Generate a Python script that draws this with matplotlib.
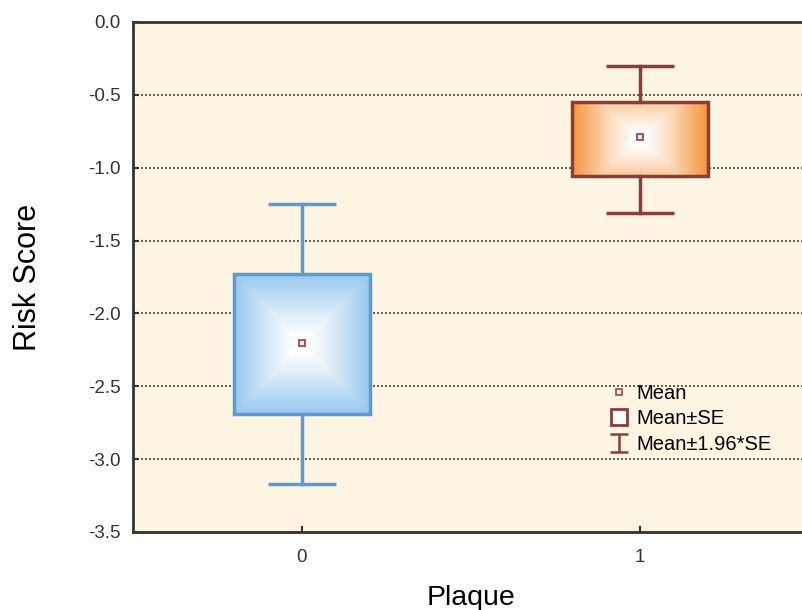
import numpy as np
import matplotlib.pyplot as plt
from matplotlib.patches import Rectangle
from matplotlib.lines import Line2D
from matplotlib.path import Path
from matplotlib.colors import LinearSegmentedColormap

plt.rcParams['font.family'] = ['Liberation Sans', 'DejaVu Sans']

# values
groups = [0, 1]
group_labels = ['0', '1']
means = [-2.20, -0.79]
box_high = [-1.73, -0.55]   # mean + SE
box_low = [-2.69, -1.06]    # mean - SE
whisk_high = [-1.25, -0.30]  # mean + 1.96*SE
whisk_low = [-3.17, -1.31]   # mean - 1.96*SE
yticks = [0.0, -0.5, -1.0, -1.5, -2.0, -2.5, -3.0, -3.5]

edge_colors = ['#5b9bd5', '#8e3b3b']
fill_colors = ['#98c8ee', '#f4963e']
box_w = 0.4
cap_w = 0.2

fig = plt.figure(figsize=(8.03, 6.10), dpi=100)
ax = fig.add_axes([133 / 803, 78 / 610, 676 / 803, 510 / 610])
ax.set_facecolor('#fdf5e1')

# gradient boxes
n = 200
u = np.linspace(-1, 1, n)
U, V = np.meshgrid(u, u)
for i, g in enumerate(groups):
    if i == 0:
        d = np.maximum(np.abs(U), np.abs(V))
    else:
        d = np.maximum(np.abs(U), np.abs(V) * 0.6)
    d = np.clip((d - 0.1) / 0.9, 0, 1) ** 1.1
    cmap = LinearSegmentedColormap.from_list('g%d' % i, ['#ffffff', fill_colors[i]])
    ax.imshow(d, cmap=cmap, vmin=0, vmax=1, aspect='auto', interpolation='bilinear',
              extent=(g - box_w / 2, g + box_w / 2, box_low[i], box_high[i]), zorder=3)
    ax.add_patch(Rectangle((g - box_w / 2, box_low[i]), box_w, box_high[i] - box_low[i],
                           fill=False, edgecolor=edge_colors[i], lw=2.5, zorder=4))
    # whiskers
    ax.plot([g, g], [box_high[i], whisk_high[i]], color=edge_colors[i], lw=2.5, zorder=4)
    ax.plot([g, g], [box_low[i], whisk_low[i]], color=edge_colors[i], lw=2.5, zorder=4)
    for y in (whisk_high[i], whisk_low[i]):
        ax.plot([g - cap_w / 2, g + cap_w / 2], [y, y], color=edge_colors[i], lw=2.5,
                zorder=4, solid_capstyle='butt')
    ax.plot(g, means[i], marker='s', ms=5, mfc='#f6ecec', mec='#a0484c', mew=1.3, zorder=5)

ax.set_xlim(-0.5, 1.5)
ax.set_ylim(-3.5, 0.0)
ax.set_xticks(groups)
ax.set_xticklabels(group_labels)
ax.set_yticks(yticks)
ax.set_yticklabels(['%.1f' % t for t in yticks])
ax.tick_params(direction='in', length=4, width=1.5, labelsize=13.5, colors='#333333', pad=9)
ax.tick_params(axis='x', pad=12)

ax.yaxis.grid(True, linestyle=(0, (1.2, 1.2)), color='#444444', lw=1.2, zorder=1)
ax.set_axisbelow(True)

for s in ['left', 'bottom', 'top']:
    ax.spines[s].set_linewidth(2)
    ax.spines[s].set_color('#333333')
ax.spines['right'].set_visible(False)

ax.set_ylabel('Risk Score', fontsize=22, labelpad=32)
ax.set_xlabel('Plaque', fontsize=20.5, labelpad=14)

# legend
ibeam = Path([(-1, 1), (1, 1), (0, 1), (0, -1), (-1, -1), (1, -1)],
             [Path.MOVETO, Path.LINETO, Path.MOVETO, Path.LINETO, Path.MOVETO, Path.LINETO])
handles = [
    Line2D([], [], ls='none', marker='s', ms=4.5, mfc='#f6ecec', mec='#a0484c', mew=1.2),
    Line2D([], [], ls='none', marker='s', ms=11, mfc='white', mec='#8e3b3b', mew=2),
    Line2D([], [], ls='none', marker=ibeam, ms=13, mfc='none', mec='#8e3b3b', mew=1.8),
]
ax.legend(handles, ['Mean', 'Mean±SE', 'Mean±1.96*SE'], loc='upper left',
          bbox_to_anchor=(609 / 803, 1 - 384 / 610), bbox_transform=fig.transFigure,
          frameon=False, fontsize=14.5, handlelength=1.0, handletextpad=0.35,
          labelspacing=0.32, borderpad=0, borderaxespad=0)

fig.savefig('out.png', dpi=100)
